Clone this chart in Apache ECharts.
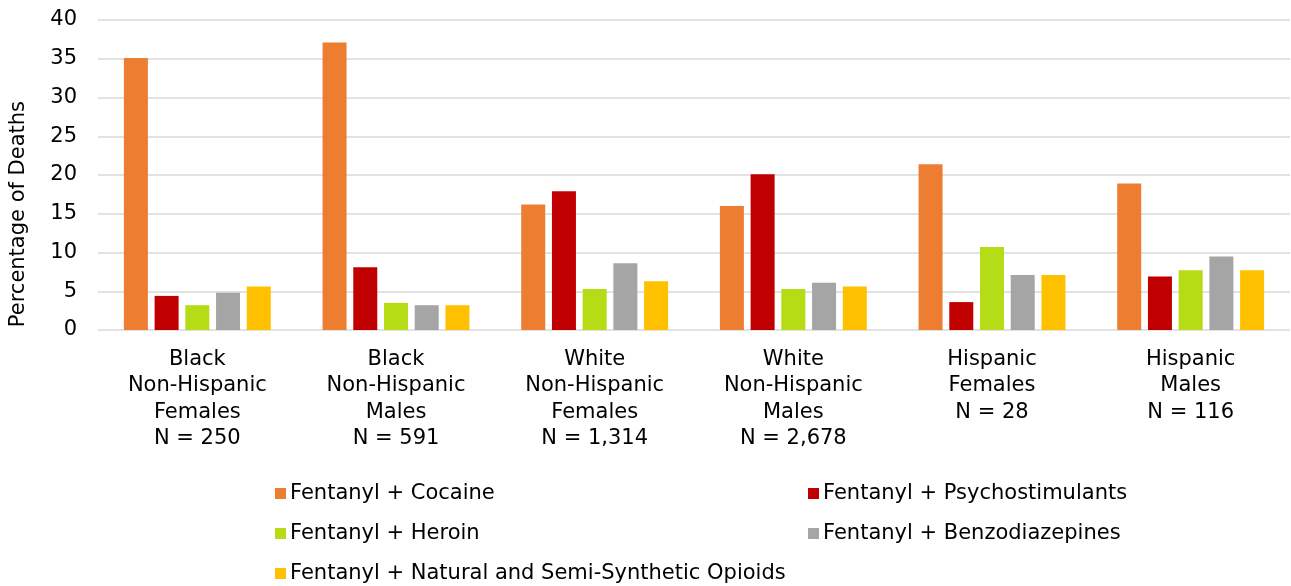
<!DOCTYPE html>
<html>
<head>
<meta charset="utf-8">
<script src="https://cdn.jsdelivr.net/npm/echarts@6/dist/echarts.min.js"></script>
<style>
  html, body { margin: 0; padding: 0; background: #fff; }
  #chart { width: 1291px; height: 586px; }
</style>
</head>
<body>
<div id="chart"></div>
<script>
// categories (x axis)
const categories = [
  'Black\nNon-Hispanic\nFemales\nN = 250',
  'Black\nNon-Hispanic\nMales\nN = 591',
  'White\nNon-Hispanic\nFemales\nN = 1,314',
  'White\nNon-Hispanic\nMales\nN = 2,678',
  'Hispanic\nFemales\nN = 28',
  'Hispanic\nMales\nN = 116'
];

// series values, percentage of deaths
const cocaine = [35.1, 37.1, 16.2, 16.0, 21.4, 18.9];
const psychostimulants = [4.4, 8.1, 17.9, 20.1, 3.6, 6.9];
const heroin = [3.2, 3.5, 5.3, 5.3, 10.7, 7.7];
const benzodiazepines = [4.8, 3.2, 8.6, 6.1, 7.1, 9.5];
const naturalOpioids = [5.6, 3.2, 6.3, 5.6, 7.1, 7.7];

const seriesNames = [
  'Fentanyl + Cocaine',
  'Fentanyl + Psychostimulants',
  'Fentanyl + Heroin',
  'Fentanyl + Benzodiazepines',
  'Fentanyl + Natural and Semi-Synthetic Opioids'
];
const seriesColors = ['#ED7D31', '#C00000', '#B5DC14', '#A5A5A5', '#FFC000'];
const seriesData = [cocaine, psychostimulants, heroin, benzodiazepines, naturalOpioids];

const font = 'DejaVu Sans, Liberation Sans, Arial, sans-serif';
const myChart = echarts.init(document.getElementById('chart'));

// one legend per entry, laid out as in the original (2 columns, 3 rows)
const legendPos = [[270, 478], [803, 478], [270, 518], [803, 518], [270, 558]];
const legends = seriesNames.map((name, i) => ({
  left: legendPos[i][0],
  top: legendPos[i][1],
  itemWidth: 11,
  itemHeight: 11,
  itemGap: 8,
  icon: 'rect',
  textStyle: {color: '#000', fontSize: 21, fontFamily: font, padding: [0, 0, 0, -1]},
  data: [name]
}));

const option = {
  animation: false,
  grid: {left: 98, right: 1, top: 20, bottom: 256, containLabel: false},
  xAxis: {
    type: 'category',
    data: categories,
    axisLine: {show: false},
    axisTick: {show: false},
    axisLabel: {
      color: '#000',
      fontSize: 21,
      fontFamily: font,
      lineHeight: 26.5,
      margin: 16,
      interval: 0
    }
  },
  yAxis: {
    type: 'value',
    min: 0,
    max: 40,
    interval: 5,
    axisLine: {show: false},
    axisTick: {show: false},
    axisLabel: {color: '#000', fontSize: 21, fontFamily: font, margin: 21},
    splitLine: {lineStyle: {color: '#d9d9d9', width: 1.5}}
  },
  legend: legends,
  graphic: [{
    type: 'text',
    left: 8,
    top: 101,
    rotation: Math.PI / 2,
    style: {text: 'Percentage of Deaths', fill: '#000', fontSize: 21, fontFamily: font}
  }],
  series: seriesNames.map((name, i) => ({
    name: name,
    type: 'bar',
    data: seriesData[i],
    barWidth: 24,
    barGap: '28%',
    itemStyle: {color: seriesColors[i]}
  }))
};

myChart.setOption(option);
window.addEventListener('resize', function () {
  myChart.resize();
});
</script>
</body>
</html>
